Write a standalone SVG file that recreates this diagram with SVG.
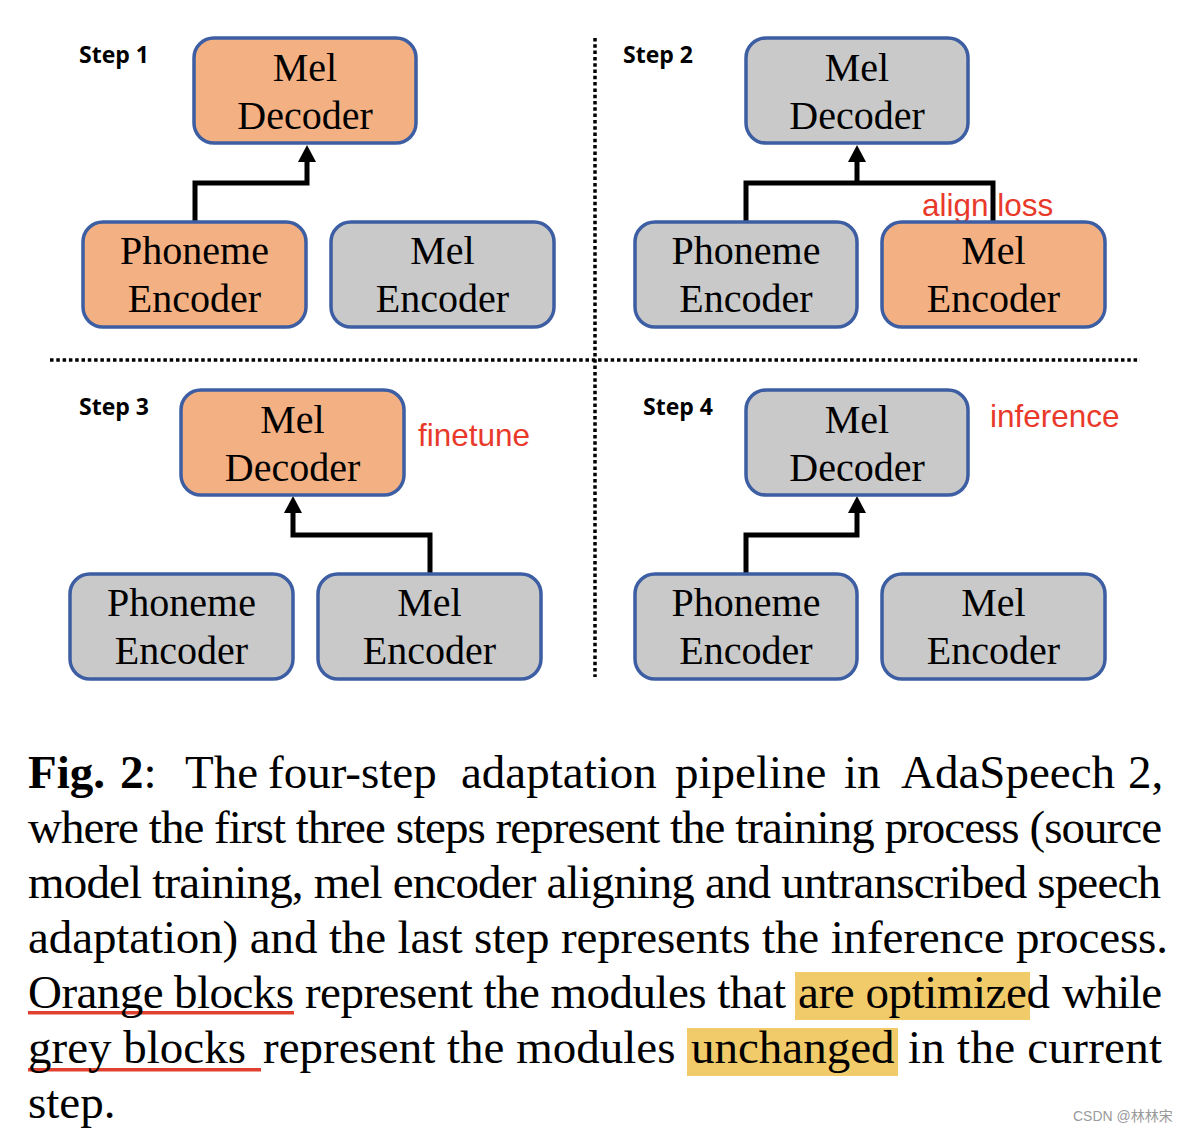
<svg xmlns="http://www.w3.org/2000/svg" width="1188" height="1132" viewBox="0 0 1188 1132">
<defs>
<style>
.box{stroke:#3d5ea3;stroke-width:3.5}
.or{fill:#f3b083}
.gr{fill:#c9c9c9}
.nt{font-family:"Liberation Serif","Times New Roman",serif;font-size:40px;fill:#000;text-anchor:middle}
.step{font-family:"Open Sans","DejaVu Sans",sans-serif;font-weight:bold;font-size:23px;fill:#000}
.red{font-family:"Liberation Sans",Arial,sans-serif;font-size:31.5px;fill:#e8392b}
.conn{fill:none;stroke:#000;stroke-width:5;stroke-linejoin:miter}
.dot{fill:none;stroke:#000;stroke-width:3.5;stroke-dasharray:3.5 2.8}
.cap{font-family:"Liberation Serif","Times New Roman",serif;font-size:47px;fill:#000}
</style>
<marker id="ah" markerUnits="userSpaceOnUse" markerWidth="18" markerHeight="18" viewBox="0 0 18 18" refX="0" refY="9" orient="auto">
<path d="M0,0 L17,9 L0,18 Z" fill="#000"/>
</marker>
</defs>
<rect width="1188" height="1132" fill="#fff"/>

<g id="dividers">
<line class="dot" x1="595" y1="38" x2="595" y2="677"/>
<line class="dot" x1="50" y1="360" x2="1140" y2="360"/>
</g>

<g id="labels">
<text class="step" x="79" y="63">Step 1</text>
<text class="step" x="623" y="63">Step 2</text>
<text class="step" x="79" y="415">Step 3</text>
<text class="step" x="643" y="415">Step 4</text>
<text class="red" x="418" y="446">finetune</text>
<text class="red" x="990" y="427">inference</text>
</g>

<g id="connectors">
<path class="conn" d="M195,222 V183 H307 V162" marker-end="url(#ah)"/>
<path class="conn" d="M746,222 V183 H993 V222"/>
<path class="conn" d="M857,183 V162" marker-end="url(#ah)"/>
<path class="conn" d="M430,574 V535 H293 V513" marker-end="url(#ah)"/>
<path class="conn" d="M746,574 V535 H857 V513" marker-end="url(#ah)"/>
</g>
<text class="red" x="922" y="216">align loss</text>

<!-- Step 1 -->
<g id="s1-mel-decoder"><rect class="box or" x="194" y="38" width="222" height="105" rx="20"/><text class="nt" x="305" y="81">Mel</text><text class="nt" x="305" y="129">Decoder</text></g>
<g id="s1-phoneme-encoder"><rect class="box or" x="83" y="222" width="223" height="105" rx="20"/><text class="nt" x="194.5" y="264">Phoneme</text><text class="nt" x="194.5" y="312">Encoder</text></g>
<g id="s1-mel-encoder"><rect class="box gr" x="331" y="222" width="223" height="105" rx="20"/><text class="nt" x="442.5" y="264">Mel</text><text class="nt" x="442.5" y="312">Encoder</text></g>

<!-- Step 2 -->
<g id="s2-mel-decoder"><rect class="box gr" x="746" y="38" width="222" height="105" rx="20"/><text class="nt" x="857" y="81">Mel</text><text class="nt" x="857" y="129">Decoder</text></g>
<g id="s2-phoneme-encoder"><rect class="box gr" x="635" y="222" width="222" height="105" rx="20"/><text class="nt" x="746" y="264">Phoneme</text><text class="nt" x="746" y="312">Encoder</text></g>
<g id="s2-mel-encoder"><rect class="box or" x="882" y="222" width="223" height="105" rx="20"/><text class="nt" x="993.5" y="264">Mel</text><text class="nt" x="993.5" y="312">Encoder</text></g>

<!-- Step 3 -->
<g id="s3-mel-decoder"><rect class="box or" x="181" y="390" width="223" height="105" rx="20"/><text class="nt" x="292.5" y="433">Mel</text><text class="nt" x="292.5" y="481">Decoder</text></g>
<g id="s3-phoneme-encoder"><rect class="box gr" x="70" y="574" width="223" height="105" rx="20"/><text class="nt" x="181.5" y="616">Phoneme</text><text class="nt" x="181.5" y="664">Encoder</text></g>
<g id="s3-mel-encoder"><rect class="box gr" x="318" y="574" width="223" height="105" rx="20"/><text class="nt" x="429.5" y="616">Mel</text><text class="nt" x="429.5" y="664">Encoder</text></g>

<!-- Step 4 -->
<g id="s4-mel-decoder"><rect class="box gr" x="746" y="390" width="222" height="105" rx="20"/><text class="nt" x="857" y="433">Mel</text><text class="nt" x="857" y="481">Decoder</text></g>
<g id="s4-phoneme-encoder"><rect class="box gr" x="635" y="574" width="222" height="105" rx="20"/><text class="nt" x="746" y="616">Phoneme</text><text class="nt" x="746" y="664">Encoder</text></g>
<g id="s4-mel-encoder"><rect class="box gr" x="882" y="574" width="223" height="105" rx="20"/><text class="nt" x="993.5" y="616">Mel</text><text class="nt" x="993.5" y="664">Encoder</text></g>

<g id="caption">
<rect x="795" y="972" width="235" height="48" fill="#f1cb6a"/>
<rect x="687" y="1028" width="211" height="48" fill="#f1cb6a"/>
<rect x="28" y="1011" width="266" height="3.5" fill="#e0402e"/>
<rect x="28" y="1068" width="233" height="3.5" fill="#e0402e"/>
<text class="cap" y="788"><tspan x="28" font-weight="bold">Fig.</tspan><tspan x="120" font-weight="bold">2</tspan><tspan>:</tspan><tspan x="185">The</tspan><tspan x="268">four-step</tspan><tspan x="461">adaptation</tspan><tspan x="675">pipeline</tspan><tspan x="844">in</tspan><tspan x="901">AdaSpeech</tspan><tspan x="1128">2,</tspan></text>
<text class="cap" x="28" y="843" textLength="1134" lengthAdjust="spacing">where the first three steps represent the training process (source</text>
<text class="cap" x="28" y="898" textLength="1133" lengthAdjust="spacing">model training, mel encoder aligning and untranscribed speech</text>
<text class="cap" x="28" y="953" textLength="1140" lengthAdjust="spacing">adaptation) and the last step represents the inference process.</text>
<text class="cap" y="1008"><tspan x="28" textLength="266" lengthAdjust="spacing">Orange blocks</tspan><tspan x="305" textLength="481" lengthAdjust="spacing">represent the modules that</tspan><tspan x="798" textLength="252" lengthAdjust="spacing">are optimized</tspan><tspan x="1062" textLength="100" lengthAdjust="spacing">while</tspan></text>
<text class="cap" y="1063"><tspan x="28">grey blocks</tspan><tspan x="263">represent the modules</tspan><tspan x="691">unchanged</tspan><tspan x="908" textLength="254" lengthAdjust="spacing">in the current</tspan></text>
<text class="cap" x="28" y="1118">step.</text>
<text x="1073" y="1121" font-family="'Liberation Sans','Noto Sans CJK SC',sans-serif" font-size="14" fill="#9a9a9a">CSDN @林林宋</text>
</g>
</svg>
